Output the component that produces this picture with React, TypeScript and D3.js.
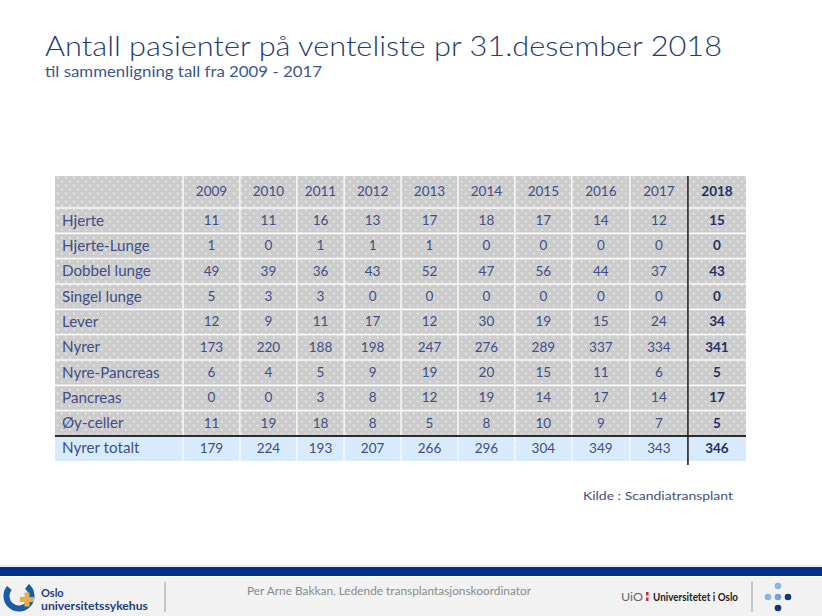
import React from "react";
import * as d3 from "d3";

const years = ["2009", "2010", "2011", "2012", "2013", "2014", "2015", "2016", "2017", "2018"];
const organs = ["Hjerte", "Hjerte-Lunge", "Dobbel lunge", "Singel lunge", "Lever", "Nyrer", "Nyre-Pancreas", "Pancreas", "Øy-celler"];
const hjerte = [11, 11, 16, 13, 17, 18, 17, 14, 12, 15];
const hjerteLunge = [1, 0, 1, 1, 1, 0, 0, 0, 0, 0];
const dobbelLunge = [49, 39, 36, 43, 52, 47, 56, 44, 37, 43];
const singelLunge = [5, 3, 3, 0, 0, 0, 0, 0, 0, 0];
const lever = [12, 9, 11, 17, 12, 30, 19, 15, 24, 34];
const nyrer = [173, 220, 188, 198, 247, 276, 289, 337, 334, 341];
const nyrePancreas = [6, 4, 5, 9, 19, 20, 15, 11, 6, 5];
const pancreas = [0, 0, 3, 8, 12, 19, 14, 17, 14, 17];
const oyCeller = [11, 19, 18, 8, 5, 8, 10, 9, 7, 5];
const totalLabel = "Nyrer totalt";
const nyrerTotalt = [179, 224, 193, 207, 266, 296, 304, 349, 343, 346];
const organValues = [hjerte, hjerteLunge, dobbelLunge, singelLunge, lever, nyrer, nyrePancreas, pancreas, oyCeller];

const title = "Antall pasienter på venteliste pr 31.desember 2018";
const subtitle = "til sammenligning tall fra 2009 - 2017";
const source = "Kilde : Scandiatransplant";
const footerText = "Per Arne Bakkan, Ledende transplantasjonskoordinator";

const W = 822;
const H = 616;
const FONT = "Lato, 'Open Sans', sans-serif";
const TXT = "#3f4e86";
const BOLD = "#1f2f66";

// layout
const tableLeft = 55;
const labelRight = 183;
const tableRight = 746;
const headerTop = 176;
const headerBottom = 208;
const bodyBottom = 436;
const totalBottom = 461;
const colWeights = [1, 1, 0.83, 1, 1, 1, 1, 1.02, 1.02, 1.02];

export default function App() {
  const cum = [0];
  colWeights.forEach((w, i) => cum.push(cum[i] + w));
  const xPos = d3.scaleLinear().domain([0, cum[cum.length - 1]]).range([labelRight, tableRight]);
  const colX0 = (i: number) => xPos(cum[i]);
  const colX1 = (i: number) => xPos(cum[i + 1]);
  const colC = (i: number) => (colX0(i) + colX1(i)) / 2;

  const yRow = d3.scaleBand<number>().domain(d3.range(organs.length)).range([headerBottom, bodyBottom]).padding(0);
  const rowH = yRow.bandwidth();

  const lastIdx = years.length - 1;
  const sepX = colX0(lastIdx);

  const arc = d3.arc()({ innerRadius: 9.5, outerRadius: 15.5, startAngle: Math.PI * 0.22, endAngle: Math.PI * 1.72 } as any) as string;

  const checker: [number, number][] = [];
  for (let yy = 0; yy < 8; yy += 2) for (let xx = (yy / 2) % 2; xx < 8; xx += 2) checker.push([xx, yy]);

  return (
    <svg width={W} height={H} style={{ position: "absolute", left: 0, top: 0, background: "#fff" }} fontFamily={FONT}>
      <defs>
        <pattern id="dots" width="8" height="8" patternUnits="userSpaceOnUse">
          <rect width="8" height="8" fill="#c9c9c9" />
          {checker.map(([xx, yy], k) => (
            <rect key={k} x={xx} y={yy} width="1" height="1" fill="#d6d6d6" />
          ))}
          <rect x="1" y="1" width="1.4" height="1.4" fill="#f4f4f4" />
          <rect x="5" y="5" width="1.4" height="1.4" fill="#f4f4f4" />
        </pattern>
      </defs>

      {/* Title */}
      <text x={45} y={56} fontSize={27.5} fontWeight={300} fill="#243a70" textLength={677} lengthAdjust="spacingAndGlyphs">{title}</text>
      <text x={45} y={77} fontSize={14.5} fontWeight={400} fill="#3a5793" textLength={277} lengthAdjust="spacingAndGlyphs">{subtitle}</text>

      {/* Table background */}
      <rect x={tableLeft} y={headerTop} width={tableRight - tableLeft} height={bodyBottom - headerTop} fill="url(#dots)" />
      <rect x={tableLeft} y={bodyBottom} width={tableRight - tableLeft} height={totalBottom - bodyBottom} fill="#d8ebfc" />

      {/* white horizontal separators */}
      {d3.range(organs.length).map((i) => (
        <line key={"h" + i} x1={tableLeft} x2={tableRight} y1={yRow(i)} y2={yRow(i)} stroke="#fafafa" strokeWidth={1.6} />
      ))}
      {/* white vertical separators */}
      {d3.range(years.length).map((i) => (
        <line key={"v" + i} x1={colX0(i)} x2={colX0(i)} y1={headerTop} y2={totalBottom} stroke="#f6f6f6" strokeWidth={1.6} />
      ))}

      {/* dark lines */}
      <line x1={tableLeft} x2={tableRight} y1={bodyBottom} y2={bodyBottom} stroke="#2b2b2b" strokeWidth={1.8} />
      <line x1={sepX} x2={sepX} y1={headerTop} y2={totalBottom + 4} stroke="#222" strokeWidth={1.6} />

      {/* header */}
      {years.map((yr, i) => (
        <text key={"y" + yr} x={colC(i)} y={(headerTop + headerBottom) / 2 + 1} textAnchor="middle" dominantBaseline="middle"
          fontSize={13.5} fill={i === lastIdx ? BOLD : TXT} fontWeight={i === lastIdx ? 700 : 400}>{yr}</text>
      ))}

      {/* body rows */}
      {organs.map((org, r) => (
        <g key={org}>
          <text x={62} y={(yRow(r) as number) + rowH / 2 + 1} dominantBaseline="middle" fontSize={15.2} fill={TXT}>{org}</text>
          {organValues[r].map((v, i) => (
            <text key={i} x={colC(i)} y={(yRow(r) as number) + rowH / 2 + 1} textAnchor="middle" dominantBaseline="middle"
              fontSize={13.5} fill={i === lastIdx ? BOLD : TXT} fontWeight={i === lastIdx ? 700 : 400}>{v}</text>
          ))}
        </g>
      ))}

      {/* total row */}
      <text x={62} y={(bodyBottom + totalBottom) / 2 + 1} dominantBaseline="middle" fontSize={15.2} fill={TXT}>{totalLabel}</text>
      {nyrerTotalt.map((v, i) => (
        <text key={"t" + i} x={colC(i)} y={(bodyBottom + totalBottom) / 2 + 1} textAnchor="middle" dominantBaseline="middle"
          fontSize={13.5} fill={i === lastIdx ? BOLD : TXT} fontWeight={i === lastIdx ? 700 : 400}>{v}</text>
      ))}

      {/* source */}
      <text x={583} y={500} fontSize={12} fill="#3f4f80" textLength={150} lengthAdjust="spacingAndGlyphs">{source}</text>

      {/* footer */}
      <rect x={0} y={565} width={W} height={1.5} fill="#dfe6f2" />
      <rect x={0} y={567} width={W} height={9} fill="#00318a" />
      <rect x={0} y={577} width={W} height={H - 577} fill="#f2f2f2" />

      {/* OUS logo */}
      <g transform="translate(19,596)">
        <path d={arc} fill="#1d5aa6" />
        <rect x={1} y={1} width={14} height={5} fill="#e2b04a" />
        <rect x={5.5} y={-3.5} width={5} height={14} fill="#e2b04a" />
      </g>
      <text x={41} y={597} fontSize={11} fill="#1d3f7a" fontWeight={700}>Oslo</text>
      <text x={41} y={610} fontSize={11} fill="#1d3f7a" fontWeight={700} textLength={107} lengthAdjust="spacingAndGlyphs">universitetssykehus</text>
      <line x1={165} x2={165} y1={582} y2={612} stroke="#9a9a9a" strokeWidth={1} />

      <text x={247} y={595} fontSize={11} fill="#8a8a8a" textLength={284} lengthAdjust="spacingAndGlyphs">{footerText}</text>

      {/* UiO */}
      <text x={621} y={601} fontSize={11} fill="#666" textLength={22} lengthAdjust="spacingAndGlyphs">UiO</text>
      <rect x={646} y={592} width={2.5} height={3.5} fill="#d6262b" />
      <rect x={646} y={597.5} width={2.5} height={3.5} fill="#d6262b" />
      <text x={653} y={601} fontSize={11} fill="#222" fontWeight={700} textLength={85} lengthAdjust="spacingAndGlyphs">Universitetet i Oslo</text>
      <line x1={752} x2={752} y1={582} y2={612} stroke="#9a9a9a" strokeWidth={1} />
      <circle cx={778} cy={586} r={3.3} fill="#8ab6de" />
      <circle cx={768} cy={597} r={3.3} fill="#8ab6de" />
      <circle cx={778} cy={597} r={3.3} fill="#6fa3d4" />
      <circle cx={788} cy={597} r={3.3} fill="#10367a" />
      <circle cx={778} cy={608} r={3.3} fill="#10367a" />
    </svg>
  );
}
